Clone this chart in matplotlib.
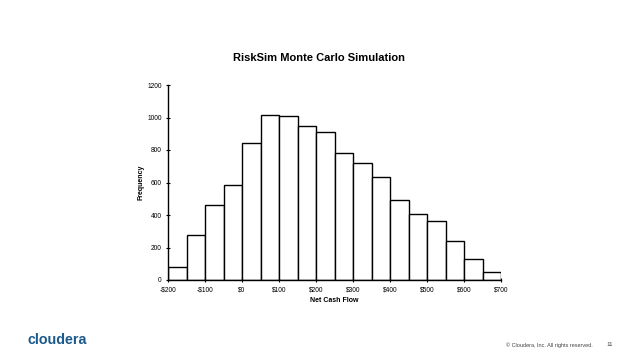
import matplotlib.pyplot as plt
import numpy as np

# histogram data (bin edges every $50 from -200 to 700)
bin_left = [-200, -150, -100, -50, 0, 50, 100, 150, 200,
            250, 300, 350, 400, 450, 500, 550, 600, 650]
freq = [80, 280, 464, 587, 845, 1016, 1010, 949, 910,
        779, 722, 636, 493, 409, 364, 243, 129, 49]
xticks = [-200, -100, 0, 100, 200, 300, 400, 500, 600, 700]
xlabels = ['-$200', '-$100', '$0', '$100', '$200', '$300', '$400', '$500', '$600', '$700']
yticks = [0, 200, 400, 600, 800, 1000, 1200]

plt.rcParams['font.family'] = ['Liberation Sans', 'DejaVu Sans']

fig = plt.figure(figsize=(6.38, 3.59), dpi=100)
ax = fig.add_axes([168 / 638, 1 - 280 / 359, 333 / 638, 195 / 359])

ax.bar(bin_left, freq, width=50, align='edge', color='white',
       edgecolor='black', linewidth=1.0)

ax.set_xlim(-200, 700)
ax.set_ylim(0, 1200)
ax.set_xticks(xticks)
ax.set_xticklabels(xlabels)
ax.set_yticks(yticks)
ax.tick_params(labelsize=4.8, length=3, width=0.8, direction='inout', pad=3)
for s in ['top', 'right']:
    ax.spines[s].set_visible(False)
for s in ['left', 'bottom']:
    ax.spines[s].set_linewidth(1.0)

ax.set_xlabel('Net Cash Flow', fontsize=5, fontweight='bold', labelpad=3)
ax.set_ylabel('Frequency', fontsize=5, fontweight='bold', labelpad=2)

fig.text(0.5, 1 - 58 / 359, 'RiskSim Monte Carlo Simulation', ha='center',
         va='center', fontsize=8, fontweight='bold')

# slide footer
fig.text(27 / 638, 1 - 340 / 359, 'cloudera', ha='left', va='center',
         fontsize=10.3, fontweight='bold', color='#1d5a8c')
fig.text(593 / 638, 1 - 345 / 359, '\u00a9 Cloudera, Inc. All rights reserved.',
         ha='right', va='center', fontsize=4, color='#444444')
fig.text(610 / 638, 1 - 344 / 359, '11', ha='center', va='center',
         fontsize=4.5, color='#444444')

fig.savefig('out.png', dpi=100)
